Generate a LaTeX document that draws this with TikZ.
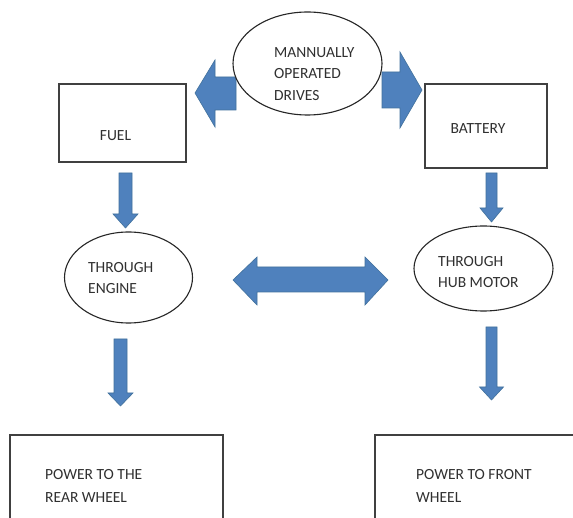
\documentclass[tikz,border=0pt]{standalone}
\usepackage{fontspec}
\setmainfont{Carlito}
\usetikzlibrary{shapes.geometric}
\definecolor{arrowblue}{HTML}{4F81BD}
\definecolor{arrowedge}{HTML}{41719C}
\definecolor{txt}{HTML}{303030}
\begin{document}
\begin{tikzpicture}[x=1pt,y=-1pt,
  blk/.style={fill=arrowblue,draw=arrowedge,line width=0.6pt,line join=miter},
  boxn/.style={draw=black!75,line width=1.3pt,fill=white,rectangle,inner sep=0pt},
  ell/.style={draw=black!85,line width=1.1pt,fill=white,ellipse,inner sep=0pt},
  lbl/.style={text=txt,font=\fontsize{15.5}{21.5}\selectfont,inner sep=0pt,align=left}]
\clip (0,0) rectangle (573,518);
\fill[white] (0,0) rectangle (573,518);

% top block arrows (behind the ellipse)
\fill[blk] (195,93) -- (215,60) -- (215,77) -- (236,77) -- (236,110) -- (215,110) -- (215,127) -- cycle;
\fill[blk] (382,72) -- (400,72) -- (400,52) -- (422,90) -- (400,128) -- (400,108) -- (382,108) -- cycle;

% nodes
\node[ell,minimum width=149pt,minimum height=103pt] (drives) at (307.5,63.5) {};
\node[boxn,minimum width=127pt,minimum height=78pt] (fuel) at (122.5,123) {};
\node[boxn,minimum width=122pt,minimum height=84pt] (battery) at (486,126) {};
\node[ell,minimum width=128pt,minimum height=91pt] (engine) at (128.5,277.5) {};
\node[ell,minimum width=139pt,minimum height=85pt] (hub) at (483.5,268.5) {};
\node[boxn,minimum width=213pt,minimum height=145pt] (rear) at (116.5,507.5) {};
\node[boxn,minimum width=235pt,minimum height=145pt] (front) at (492.5,507.5) {};

% texts
\node[lbl,anchor=north west] (tdrives) at (274,47) {MANNUALLY\\OPERATED\\DRIVES};
\node[lbl] (tfuel) at (115.5,136) {FUEL};
\node[lbl] (tbattery) at (478,129) {BATTERY};
\node[lbl,anchor=north west] (tengine) at (88,262) {THROUGH\\ENGINE};
\node[lbl,anchor=north west] (thub) at (438,256) {THROUGH\\HUB MOTOR};
\node[lbl,anchor=north west,font=\fontsize{15.5}{23}\selectfont] (trear) at (45,469) {POWER TO THE\\REAR WHEEL};
\node[lbl,anchor=north west,font=\fontsize{15.5}{23}\selectfont] (tfront) at (416,469) {POWER TO FRONT\\WHEEL};

% down block arrows
\fill[blk] (119,173) -- (132,173) -- (132,214) -- (138,214) -- (125.5,228) -- (113,214) -- (119,214) -- cycle;
\fill[blk] (486,173) -- (497,173) -- (497,208) -- (503,208) -- (491.5,222) -- (480,208) -- (486,208) -- cycle;
\fill[blk] (114,339) -- (127,339) -- (127,393) -- (133,393) -- (120.5,406) -- (108,393) -- (114,393) -- cycle;
\fill[blk] (486,327) -- (497,327) -- (497,387) -- (503.5,387) -- (491.5,400) -- (479.5,387) -- (486,387) -- cycle;

% double block arrow
\fill[blk] (233,280) -- (257,257) -- (257,267) -- (365,267) -- (365,257) -- (388,280) -- (365,305) -- (365,292) -- (257,292) -- (257,305) -- cycle;
\end{tikzpicture}
\end{document}
